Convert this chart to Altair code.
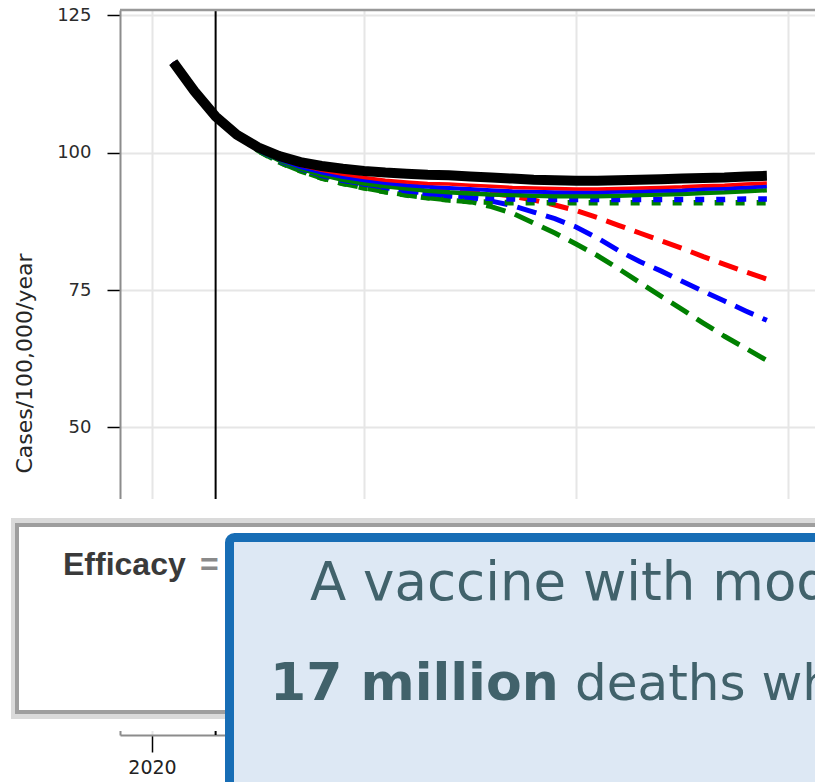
import altair as alt
import pandas as pd

# ---- data: projected incidence, cases per 100,000 per year ----
YEARS = [2021, 2022, 2023, 2024, 2025, 2026, 2027, 2028, 2029, 2030,
         2031, 2032, 2033, 2034, 2035, 2036, 2037, 2038, 2039, 2040,
         2041, 2042, 2043, 2044, 2045, 2046, 2047, 2048, 2049]

BASELINE = [116.5, 111.2, 106.6, 103.3, 101.0, 99.4, 98.3, 97.6, 97.1, 96.7,
            96.4, 96.2, 96.0, 95.9, 95.7, 95.5, 95.3, 95.1, 95.0, 94.9,
            94.9, 95.0, 95.1, 95.2, 95.3, 95.4, 95.5, 95.7, 95.8]

SOLID_RED = [116.5, 111.2, 106.6, 103.3, 100.8, 99.0, 97.7, 96.8, 96.1, 95.5,
             95.0, 94.7, 94.4, 94.3, 94.1, 93.9, 93.7, 93.6, 93.5, 93.4,
             93.4, 93.5, 93.6, 93.7, 93.8, 94.0, 94.1, 94.3, 94.5]
SOLID_BLUE = [116.5, 111.2, 106.6, 103.3, 100.7, 98.8, 97.4, 96.4, 95.6, 95.0,
              94.5, 94.1, 93.8, 93.6, 93.4, 93.2, 93.0, 92.9, 92.8, 92.8,
              92.8, 92.9, 93.0, 93.1, 93.2, 93.4, 93.5, 93.7, 93.9]
SOLID_GREEN = [116.5, 111.2, 106.6, 103.3, 100.6, 98.6, 97.1, 96.0, 95.1, 94.4,
               93.9, 93.5, 93.1, 92.8, 92.6, 92.4, 92.3, 92.2, 92.1, 92.1,
               92.1, 92.2, 92.3, 92.4, 92.5, 92.7, 92.8, 93.0, 93.2]

DOTTED_BLUE = [116.5, 111.2, 106.6, 103.3, 100.6, 98.6, 97.1, 95.9, 95.0, 94.3,
               93.7, 93.1, 92.6, 92.2, 91.9, 91.7, 91.6, 91.5, 91.5, 91.5,
               91.5, 91.5, 91.5, 91.5, 91.5, 91.5, 91.5, 91.6, 91.6]
DOTTED_GREEN = [116.5, 111.2, 106.6, 103.3, 100.4, 98.3, 96.7, 95.4, 94.4, 93.6,
                92.9, 92.3, 91.8, 91.4, 91.1, 91.0, 90.9, 90.9, 90.9, 90.9,
                90.9, 90.9, 90.9, 90.9, 90.9, 90.9, 90.9, 90.9, 90.9]

DASHED_RED = [116.5, 111.2, 106.6, 103.3, 100.7, 98.9, 97.5, 96.5, 95.7, 95.0,
              94.5, 94.0, 93.6, 93.3, 93.0, 92.6, 92.1, 91.4, 90.5, 89.5,
              88.2, 86.8, 85.4, 84.0, 82.6, 81.1, 79.7, 78.3, 77.0]
DASHED_BLUE = [116.5, 111.2, 106.6, 103.3, 100.6, 98.6, 97.1, 95.9, 95.0, 94.3,
               93.7, 93.1, 92.6, 92.2, 91.9, 91.2, 90.4, 89.2, 88.0, 86.5,
               84.5, 82.2, 80.2, 78.5, 76.6, 74.8, 73.0, 71.2, 69.5]
DASHED_GREEN = [116.5, 111.2, 106.6, 103.3, 100.4, 98.3, 96.7, 95.4, 94.4, 93.6,
                92.9, 92.3, 91.8, 91.4, 91.1, 90.2, 89.0, 87.2, 85.4, 83.4,
                81.3, 78.9, 76.4, 73.9, 71.5, 69.0, 66.6, 64.4, 62.2]

VACCINE_YEAR = 2023
X_TICKS = [2020, 2030, 2040, 2050]
Y_TICKS = [50, 75, 100, 125]

HEADLINE = "A vaccine with moderate efficacy"
BOLD_FIGURE = "17 million"
FIGURE_TAIL = "deaths which"
LEGEND_TITLE = "Efficacy"

# ---- layout ----
PAD_L, PAD_T = 120, 10
PLOT_W, PLOT_H = 695, 725
X_DOMAIN = [2018.49, 2051.27]
Y_DOMAIN = [-6, 126]

TEXT_TEAL = "#41626b"
GRID = "#e6e6e6"
SPINE = "#8c8c8c"


def frame(values):
    return pd.DataFrame({"year": YEARS, "cases": values})


x_enc = alt.X(
    "year:Q",
    scale=alt.Scale(domain=X_DOMAIN, nice=False, zero=False),
    axis=alt.Axis(values=X_TICKS, format="d", title=None, tickSize=17,
                  tickColor="black", tickWidth=1.5, labelFontSize=19,
                  labelFont="DejaVu Sans", labelColor="#222222",
                  labelPadding=6, labelFlush=False, domainColor=SPINE,
                  domainWidth=2, gridColor=GRID, gridWidth=2, zindex=0),
)
y_enc = alt.Y(
    "cases:Q",
    scale=alt.Scale(domain=Y_DOMAIN, nice=False, zero=False),
    axis=alt.Axis(values=Y_TICKS, title="Cases/100,000/year", tickSize=13,
                  tickColor="black", tickWidth=1.5, labelFontSize=18,
                  labelFont="DejaVu Sans", labelColor="#2b2b2b",
                  labelPadding=16, domainColor=SPINE, domainWidth=2,
                  gridColor=GRID, gridWidth=2, titleFont="DejaVu Sans",
                  titleFontSize=22, titleFontWeight="normal",
                  titleColor="#262626", titleX=-84, titleY=353,
                  titleBaseline="bottom", zindex=0),
)


def series(values, color, width, dash=None):
    kwargs = dict(color=color, strokeWidth=width, strokeCap="butt")
    if dash:
        kwargs["strokeDash"] = dash
    return alt.Chart(frame(values)).mark_line(**kwargs).encode(x=x_enc, y=y_enc)


DASH = [20, 10]
DOT = [9, 12]

lines = [
    series(DASHED_GREEN, "#008000", 5, DASH),
    series(DASHED_BLUE, "#0000ff", 5, DASH),
    series(DASHED_RED, "#ff0000", 5, DASH),
    series(DOTTED_GREEN, "#008000", 5.5, DOT),
    series(DOTTED_BLUE, "#0000ff", 5.5, DOT),
    series(SOLID_GREEN, "#008000", 4.5),
    series(SOLID_BLUE, "#0000ff", 4),
    series(SOLID_RED, "#ff0000", 3.5),
    series(BASELINE, "black", 10),
]

one = pd.DataFrame({"k": [0]})

# vertical marker at vaccine introduction
marker = alt.Chart(one).mark_rule(color="black", strokeWidth=2).encode(
    x=alt.datum(VACCINE_YEAR), y=alt.datum(Y_DOMAIN[1]), y2=alt.datum(Y_DOMAIN[0])
)
# top spine of the axes frame
top_spine = alt.Chart(one).mark_rule(color="#999999", strokeWidth=2.5).encode(
    x=alt.datum(X_DOMAIN[0]), x2=alt.datum(X_DOMAIN[1]), y=alt.datum(Y_DOMAIN[1])
)


def box(x0, y0, x1, y1, **style):
    return alt.Chart(one).mark_rect(**style).encode(
        x=alt.value(x0 - PAD_L), x2=alt.value(x1 - PAD_L),
        y=alt.value(y0 - PAD_T), y2=alt.value(y1 - PAD_T),
    )


def label(text, x, y, **style):
    return alt.Chart(one).mark_text(text=text, align="left",
                                    baseline="alphabetic", **style).encode(
        x=alt.value(x - PAD_L), y=alt.value(y - PAD_T)
    )


# panel that hides the lower part of the axes and carries the legend
cover = box(0, 499, 815, 731, fill="white")
legend_halo = box(11, 518, 900, 719, fill="#dadada")
legend_edge = box(15, 523, 900, 714, fill="#9e9e9e")
legend_body = box(19, 527, 900, 710, fill="white")
legend_title = label(LEGEND_TITLE, 63, 575, font="Liberation Sans",
                     fontSize=32, fontWeight="bold", color="#3a3a3a")
legend_eq = label("=", 200, 575, font="Liberation Sans", fontSize=32,
                  fontWeight="bold", color="#8a8a8a")

# call-out box
callout = box(229.5, 537.5, 900, 860, fill="#dde8f4", stroke="#176db5",
              strokeWidth=9, cornerRadius=5)
headline = label(HEADLINE, 310, 600, font="DejaVu Sans", fontSize=53,
                 color=TEXT_TEAL)
figure_bold = label(BOLD_FIGURE, 270, 700, font="DejaVu Sans", fontSize=52,
                    fontWeight="bold", color=TEXT_TEAL)
figure_tail = label(FIGURE_TAIL, 575, 700, font="DejaVu Sans", fontSize=50,
                    color=TEXT_TEAL)

chart = alt.layer(
    *lines, marker, top_spine,
    cover, legend_halo, legend_edge, legend_body, legend_title, legend_eq,
    callout, headline, figure_bold, figure_tail,
).properties(
    width=PLOT_W,
    height=PLOT_H,
    padding={"left": PAD_L, "top": PAD_T, "right": 0, "bottom": 782 - PAD_T - PLOT_H},
    autosize=alt.AutoSizeParams(type="none"),
    background="white",
).configure_view(stroke=None)

chart.save("out.html", embed_options={"renderer": "svg", "actions": False})
